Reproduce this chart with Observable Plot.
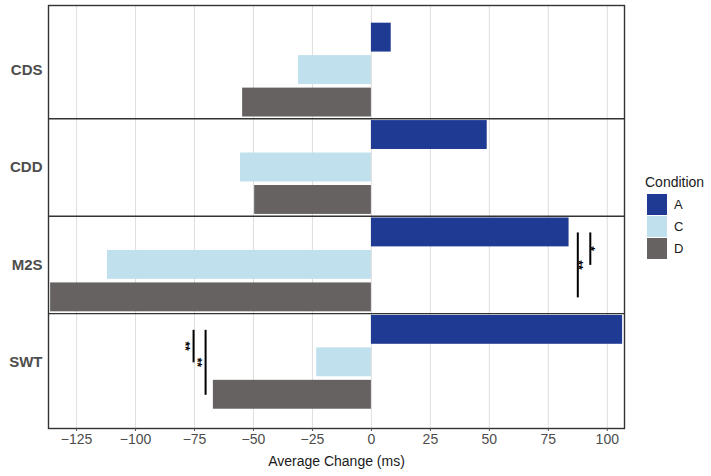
<!DOCTYPE html>
<html><head><meta charset="utf-8">
<script src="https://cdn.jsdelivr.net/npm/d3@7"></script>
<script src="https://cdn.jsdelivr.net/npm/@observablehq/plot@0.6"></script>
<style>
body{margin:0;background:#fff;font-family:"Liberation Sans",Arial,sans-serif;}
#wrap{position:relative;width:711px;height:476px;overflow:hidden;}
#legend{position:absolute;left:645px;top:173px;}
#legend .title{font-size:14px;color:#1a1a1a;line-height:18px;margin-bottom:3px;}
#legend .row{display:flex;align-items:center;height:21.7px;}
#legend .sw{width:20px;height:21px;margin-left:2px;}
#legend .lab{font-size:13px;color:#1a1a1a;margin-left:7px;}
</style></head><body><div id="wrap"><div id="chart"></div><div id="legend"></div></div>
<script>
const groups = ["CDS", "CDD", "M2S", "SWT"];
const conditions = ["A", "C", "D"];
const colors = ["#1f3a93", "#bfe0ec", "#666262"];
const valuesA = [8.4, 49.1, 83.8, 106.5];
const valuesC = [-30.9, -55.5, -111.9, -23.2];
const valuesD = [-54.6, -49.5, -136.0, -67.0];
const xTicks = [-125, -100, -75, -50, -25, 0, 25, 50, 75, 100];
const xTitle = "Average Change (ms)";
const legendTitle = "Condition";
const sigGroup = ["M2S", "M2S", "SWT", "SWT"];
const sigFrom = ["A", "A", "A", "A"];
const sigTo = ["D", "C", "C", "D"];
const sigX = [87.5, 92.8, -75.4, -70.3];
const sigLabel = ["**", "*", "**", "**"];
const sigSide = ["right", "right", "left", "left"];

const key = (g, c) => g + "|" + c;
const seriesValues = {A: valuesA, C: valuesC, D: valuesD};
const data = [];
groups.forEach((g, i) => conditions.forEach(c => data.push({group: g, condition: c, key: key(g, c), value: seriesValues[c][i]})));
const yDomain = data.map(d => d.key);

const W = 711, H = 476, mL = 48, mR = 87, mT = 5, mB = 48;
const insetTop = 14.1, insetBottom = 15.7, pad = 0.11;
const step = (H - mT - mB - insetTop - insetBottom) / (yDomain.length + pad);

const sig = sigGroup.map((g, i) => ({
  x: sigX[i], from: key(g, sigFrom[i]), to: key(g, sigTo[i]), label: sigLabel[i], side: sigSide[i],
  span: conditions.indexOf(sigTo[i]) - conditions.indexOf(sigFrom[i])
}));

const sigTextMarks = sig.map(d => Plot.text([d], {
  x: "x", y: "from", text: "label", rotate: 90,
  dy: d.span * step / 2, dx: d.side === "right" ? 0 : -9,
  fontSize: 12, fontWeight: "bold", fill: "black", textAnchor: "middle", lineAnchor: "middle"
}));

const plot = Plot.plot({
  width: W, height: H,
  marginLeft: mL, marginRight: mR, marginTop: mT, marginBottom: mB,
  style: {fontFamily: "'Liberation Sans', Arial, sans-serif", fontSize: "14px", background: "white"},
  x: {domain: [-136.9, 107.3], label: null},
  y: {domain: yDomain, padding: pad, insetTop, insetBottom, round: false, label: null},
  color: {domain: conditions, range: colors},
  marks: [
    Plot.gridX(xTicks, {stroke: "#dedede", strokeOpacity: 1, strokeWidth: 1}),
    Plot.barX(data, {x: "value", y: "key", fill: "condition"}),
    Plot.ruleY(groups.slice(1).map(g => key(g, "A")), {dy: -step / 2, stroke: "#333", strokeWidth: 1.4}),
    Plot.frame({stroke: "#333", strokeWidth: 1.4}),
    Plot.link(sig, {x1: "x", x2: "x", y1: "from", y2: "to", stroke: "black", strokeWidth: 2}),
    ...sigTextMarks,
    Plot.axisX({ticks: xTicks, tickSize: 3, tickPadding: 3, fontSize: 14, color: "#4d4d4d", label: null}),
    Plot.axisY({ticks: groups.map(g => key(g, "C")), tickFormat: k => k.split("|")[0], tickSize: 0, tickPadding: 6,
      fontSize: 15, fontWeight: "bold", color: "#4d4d4d", label: null}),
    Plot.text([xTitle], {frameAnchor: "bottom", dy: 33, fontSize: 14, fill: "#1a1a1a", lineAnchor: "middle"})
  ]
});
document.getElementById("chart").appendChild(plot);

const lg = document.getElementById("legend");
const t = document.createElement("div"); t.className = "title"; t.textContent = legendTitle; lg.appendChild(t);
conditions.forEach((c, i) => {
  const r = document.createElement("div"); r.className = "row";
  const s = document.createElement("div"); s.className = "sw"; s.style.background = colors[i];
  const l = document.createElement("div"); l.className = "lab"; l.textContent = c;
  r.appendChild(s); r.appendChild(l); lg.appendChild(r);
});
</script></body></html>
